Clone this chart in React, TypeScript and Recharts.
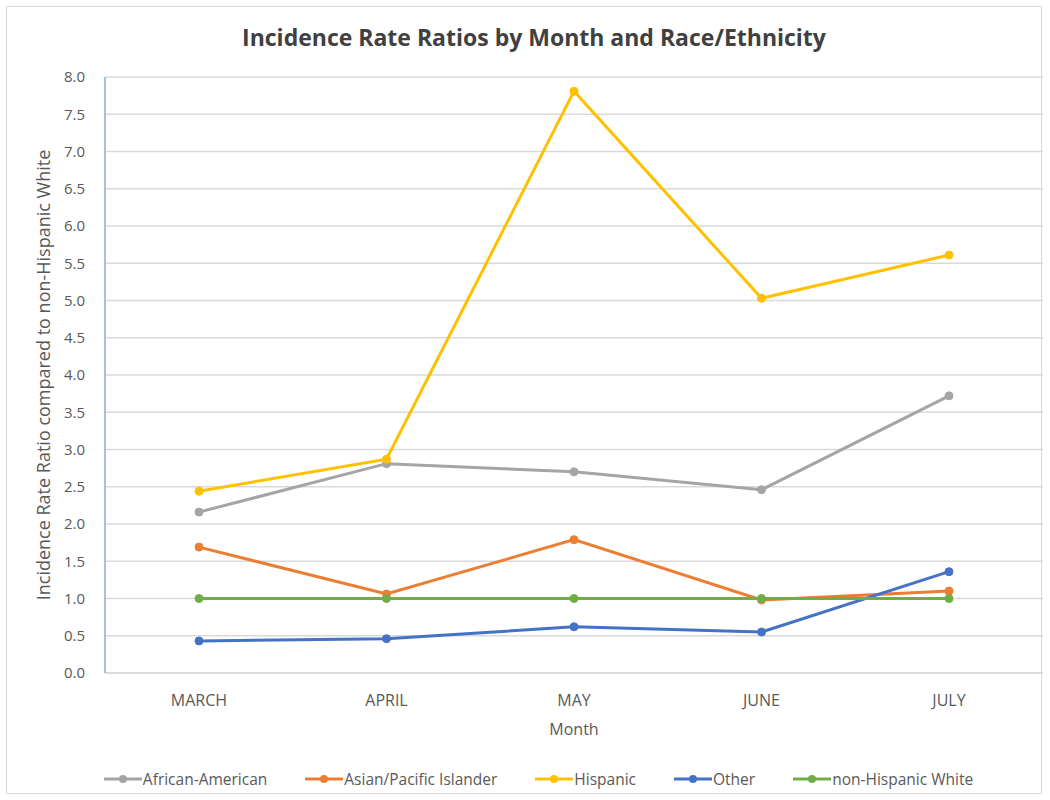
import { LineChart, Line, XAxis, YAxis, CartesianGrid } from 'recharts'

const months = ['MARCH', 'APRIL', 'MAY', 'JUNE', 'JULY']
const africanAmerican = [2.16, 2.81, 2.70, 2.46, 3.72]
const asianPacific = [1.69, 1.06, 1.79, 0.98, 1.10]
const hispanic = [2.44, 2.87, 7.81, 5.03, 5.61]
const other = [0.43, 0.46, 0.62, 0.55, 1.36]
const nonHispanicWhite = [1.0, 1.0, 1.0, 1.0, 1.0]
const yTicks = [0, 0.5, 1, 1.5, 2, 2.5, 3, 3.5, 4, 4.5, 5, 5.5, 6, 6.5, 7, 7.5, 8]

const SERIES = [
  { key: 'aa', name: 'African-American', color: '#A5A5A5', values: africanAmerican },
  { key: 'api', name: 'Asian/Pacific Islander', color: '#ED7D31', values: asianPacific },
  { key: 'hisp', name: 'Hispanic', color: '#FFC000', values: hispanic },
  { key: 'other', name: 'Other', color: '#4472C4', values: other },
  { key: 'nhw', name: 'non-Hispanic White', color: '#70AD47', values: nonHispanicWhite },
]

const data = months.map((m, i) => {
  const row: Record<string, string | number> = { month: m }
  SERIES.forEach(s => { row[s.key] = s.values[i] })
  return row
})

const FONT = '"Open Sans", sans-serif'
const GREY = '#595959'

function ChartLegend() {
  return (
    <div style={{ position: 'absolute', left: 0, top: 768, width: 1077, display: 'flex', justifyContent: 'center', gap: 38, fontFamily: FONT, fontSize: 15.5, color: GREY }}>
      {SERIES.map(s => (
        <div key={s.key} style={{ display: 'flex', alignItems: 'center' }}>
          <svg width={38} height={10} style={{ marginRight: 1 }}>
            <line x1={0} y1={5} x2={38} y2={5} stroke={s.color} strokeWidth={3} />
            <circle cx={19} cy={5} r={4} fill={s.color} />
          </svg>
          <span>{s.name}</span>
        </div>
      ))}
    </div>
  )
}

export default function App() {
  return (
    <div style={{ position: 'absolute', left: 0, top: 0, width: 1050, height: 800, background: '#fff' }}>
      <div style={{ position: 'absolute', left: 6, top: 6, width: 1036, height: 788, border: '1px solid #D9D9D9', boxSizing: 'border-box' }} />
      <div style={{ position: 'absolute', left: 0, top: 21, width: 1068, textAlign: 'center', fontFamily: FONT, fontWeight: 700, fontSize: 23, color: '#404040' }}>
        Incidence Rate Ratios by Month and Race/Ethnicity
      </div>
      <div style={{ position: 'absolute', left: 0, top: 0 }}>
        <LineChart width={1050} height={800} data={data} margin={{ top: 77, right: 7, bottom: 97, left: 0 }}>
          <CartesianGrid vertical={false} stroke="#D9D9D9" strokeWidth={1.5} />
          <XAxis
            dataKey="month"
            height={30}
            padding={{ left: 94, right: 94 }}
            axisLine={{ stroke: '#D9D9D9', strokeWidth: 1.5 }}
            tickLine={false}
            tickSize={0}
            tickMargin={22}
            tick={{ fill: GREY, fontSize: 16, fontFamily: FONT }}
            label={{ value: 'Month', position: 'insideBottom', offset: -32, fill: GREY, fontSize: 16, fontFamily: FONT }}
          />
          <YAxis
            width={105}
            domain={[0, 8]}
            ticks={yTicks}
            interval={0}
            tickFormatter={(v: number) => v.toFixed(1)}
            axisLine={{ stroke: '#9DC3E6', strokeWidth: 2 }}
            tickLine={false}
            tickSize={0}
            tickMargin={20}
            tick={{ fill: GREY, fontSize: 15, fontFamily: FONT }}
            label={{ value: 'Incidence Rate Ratio compared to non-Hispanic White', angle: -90, position: 'center', dx: -9, fill: GREY, fontSize: 18, fontFamily: FONT }}
          />
          {SERIES.map(s => (
            <Line
              key={s.key}
              dataKey={s.key}
              name={s.name}
              stroke={s.color}
              strokeWidth={3}
              dot={{ r: 4, fill: s.color, stroke: s.color, strokeWidth: 1 }}
              isAnimationActive={false}
            />
          ))}
        </LineChart>
      </div>
      <ChartLegend />
    </div>
  )
}
